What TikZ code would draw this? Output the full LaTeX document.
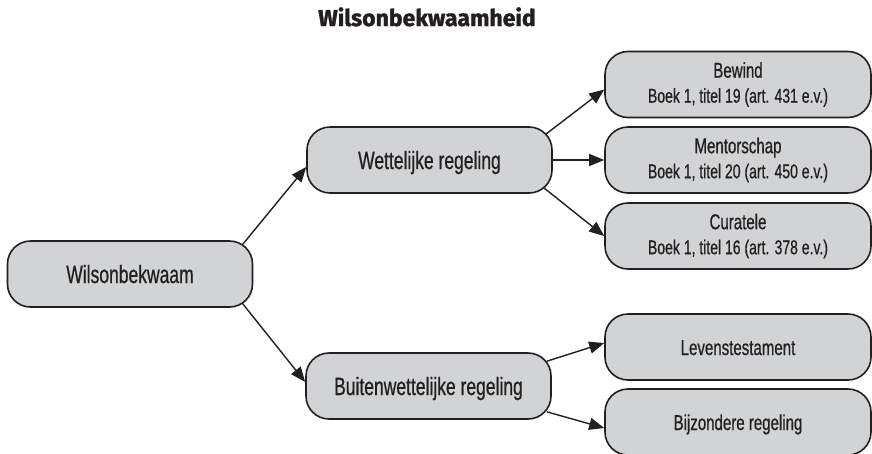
\documentclass[tikz,border=0pt]{standalone}
\usepackage{fontspec}
\setmainfont{Liberation Sans}[FakeStretch=0.7, FakeBold=0.6]
\newfontfamily\titlefont{Fira Sans}[BoldFeatures={FakeBold=1.5}]
\usepackage{xcolor}
\usetikzlibrary{arrows.meta, positioning}
\definecolor{inkgray}{HTML}{231F20}
\definecolor{boxgray}{HTML}{D1D3D4}
\tikzset{
  regbox/.style={rectangle, rounded corners=23pt, draw=inkgray, line width=1.6pt,
                 fill=boxgray, text=inkgray, align=center, inner sep=0pt,
                 minimum width=245pt, minimum height=66pt},
  onebox/.style={regbox, text height=18pt, text depth=0pt, font=\fontsize{25}{28}\selectfont},
  sidebox/.style={regbox, minimum width=266pt, font=\fontsize{21.5}{25}\selectfont},
  arrow/.style={-{Triangle[length=15pt,width=12pt]}, line width=1.4pt, draw=inkgray},
}
\newcommand{\subline}[1]{{\fontsize{20}{25}\selectfont #1}}
\begin{document}
\begin{tikzpicture}[x=1pt, y=-1pt]
    \useasboundingbox (0,0) rectangle (872,453);
    \node[text=inkgray, anchor=base] (title) at (427,26)
      {\titlefont\bfseries\fontsize{23}{26}\selectfont Wilsonbekwaamheid};
    % linker kolom
    \node[onebox] (wil) at (130,274) {Wilsonbekwaam};
    \node[onebox] (wet) at (429.5,160) {Wettelijke regeling};
    \node[onebox] (bui) at (428.5,386) {Buitenwettelijke regeling};
    % rechter kolom
    \node[sidebox] (bew) at (738,84.5) {Bewind\\\subline{Boek 1, titel 19 (art. 431 e.v.)}};
    \node[sidebox] (men) at (738,160) {Mentorschap\\\subline{Boek 1, titel 20 (art. 450 e.v.)}};
    \node[sidebox] (cur) at (738,236) {Curatele\\\subline{Boek 1, titel 16 (art. 378 e.v.)}};
    \node[sidebox, text height=16pt, text depth=0pt] (lev) at (738,347) {Levenstestament};
    \node[sidebox, text height=16pt, text depth=0pt] (bij) at (738,422) {Bijzondere regeling};
    \draw[arrow] ([shift={(-10.5,4)}]wil.north east) -- ([shift={(0,7)}]wet.west);
    \draw[arrow] ([shift={(-10.5,-4)}]wil.south east) -- ([shift={(0,-4)}]bui.west);
    \draw[arrow] ([shift={(-7,8)}]wet.north east) -- ([shift={(0,5)}]bew.west);
    \draw[arrow] (wet.east) -- (men.west);
    \draw[arrow] ([shift={(-9,-6)}]wet.south east) -- (cur.west);
    \draw[arrow] ([shift={(-5,9)}]bui.north east) -- ([shift={(0,-4)}]lev.west);
    \draw[arrow] ([shift={(-5,-8)}]bui.south east) -- ([shift={(0,6)}]bij.west);
\end{tikzpicture}
\end{document}
